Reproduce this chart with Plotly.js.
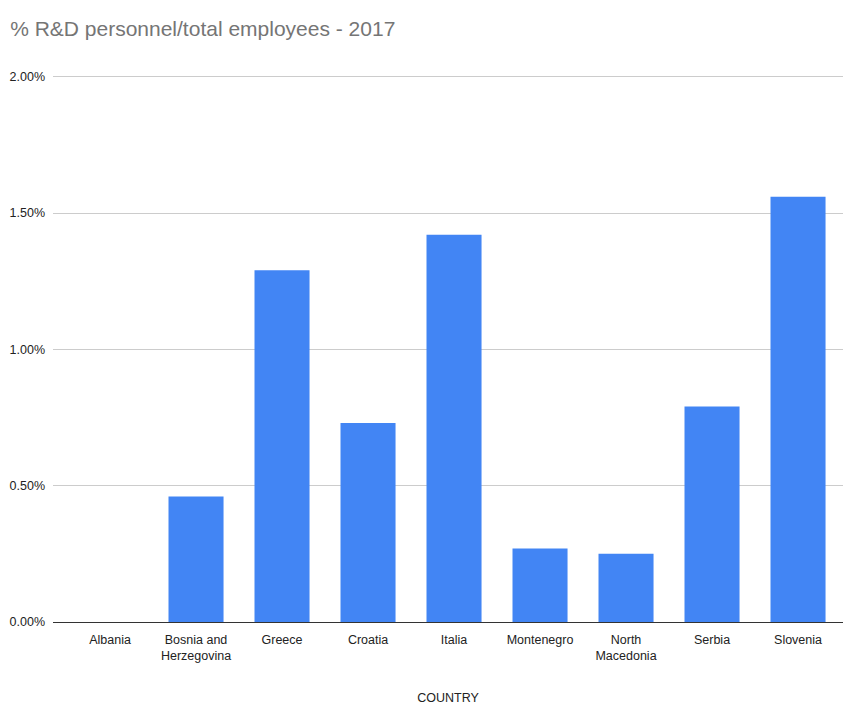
<!DOCTYPE html>
<html><head><meta charset="utf-8">
<script src="https://cdn.plot.ly/plotly-3.0.1.min.js"></script>
<style>html,body{margin:0;padding:0;background:#fff}#chart{width:844px;height:705px}</style>
</head><body><div id="chart"></div>
<script>
const countries = ["Albania","Bosnia and<br>Herzegovina","Greece","Croatia","Italia","Montenegro","North<br>Macedonia","Serbia","Slovenia"];
const values = [0, 0.0046, 0.0129, 0.0073, 0.0142, 0.0027, 0.0025, 0.0079, 0.0156];
const yTicks = [0, 0.005, 0.01, 0.015, 0.02];
const yTickLabels = ["0.00%","0.50%","1.00%","1.50%","2.00%"];

Plotly.newPlot("chart", [{
  type: "bar",
  x: countries.map((c,i)=>i),
  y: values,
  marker: {color: "#4285F4"},
  width: 0.64,
  hoverinfo: "y"
}], {
  width: 844, height: 705,
  margin: {l: 53, r: 1, t: 74, b: 83},
  paper_bgcolor: "#fff", plot_bgcolor: "#fff",
  font: {family: "Liberation Sans, Arial, sans-serif", size: 12.5, color: "#222"},
  title: {text: "% R&D personnel/total employees - 2017", x: 0.012, xanchor: "left", y: 0.96, yanchor: "middle",
          font: {size: 21, color: "#757575", family: "Liberation Sans, Arial, sans-serif"}},
  xaxis: {
    range: [-0.663, 8.523],
    tickvals: countries.map((c,i)=>i), ticktext: countries,
    showgrid: false, zeroline: false, showline: false, ticks: "",
    ticklabelstandoff: 8,
    tickfont: {size: 12.5, color: "#222"},
    title: {text: "COUNTRY", font: {size: 12.5, color: "#222"}, standoff: 42}
  },
  yaxis: {
    range: [0, 0.0201],
    tickvals: yTicks, ticktext: yTickLabels,
    showgrid: true, gridcolor: "#cccccc", gridwidth: 1,
    zeroline: true, zerolinecolor: "#333", zerolinewidth: 1,
    showline: false, ticks: "", ticklabelstandoff: 7,
    tickfont: {size: 12.5, color: "#222"}
  },
  bargap: 0.36,
  showlegend: false
}, {displayModeBar: false, staticPlot: true});
</script></body></html>
